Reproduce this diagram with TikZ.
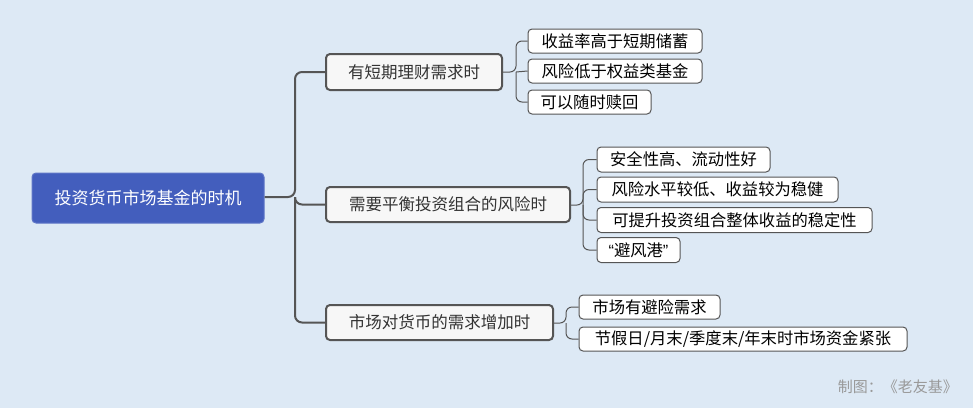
\documentclass[tikz,border=0pt]{standalone}
\usepackage{fontspec}
\setmainfont{Noto Sans CJK SC}
\newfontfamily\latinfont{Liberation Sans}
\definecolor{bgc}{HTML}{DDE9F5}
\definecolor{rootc}{HTML}{435EBD}
\definecolor{linec}{HTML}{555555}
\definecolor{txtc}{HTML}{333333}
\definecolor{boxc}{HTML}{F7F7F7}
\begin{document}
\begin{tikzpicture}[x=1pt,y=-1pt,
  rootbox/.style={draw=rootc!85!white,line width=1pt,fill=rootc,rounded corners=4pt,text=white,font=\fontsize{17}{20}\selectfont,inner sep=0pt},
  topicbox/.style={draw=linec,line width=2pt,fill=boxc,rounded corners=4pt,text=txtc,font=\fontsize{16.5}{19}\selectfont,inner sep=0pt},
  leafbox/.style={draw=linec,line width=1pt,fill=white,rounded corners=4pt,text=black,font=\fontsize{16.3}{19}\selectfont,inner sep=0pt},
  mainlink/.style={draw=linec,line width=2pt,rounded corners=7pt},
  leaflink/.style={draw=linec,line width=1pt,rounded corners=6pt},
  note/.style={text=gray!80,font=\fontsize{15}{18}\selectfont,inner sep=0pt}]
\fill[bgc] (0,0) rectangle (973,408);
\useasboundingbox (0,0) rectangle (973,408);

\node[rootbox,minimum width=232pt,minimum height=50pt] (root) at (148,198) {投资货币市场基金的时机};

\node[topicbox,minimum width=176pt,minimum height=36pt] (ta) at (414,72) {有短期理财需求时};
\node[topicbox,minimum width=244pt,minimum height=35pt] (tb) at (448,204.5) {需要平衡投资组合的风险时};
\node[topicbox,minimum width=227pt,minimum height=35pt] (tc) at (439.5,322.5) {市场对货币的需求增加时};

\node[leafbox,minimum width=174pt,minimum height=24pt] (a1) at (615,41) {收益率高于短期储蓄};
\node[leafbox,minimum width=174pt,minimum height=24pt] (a2) at (615,71) {风险低于权益类基金};
\node[leafbox,minimum width=123pt,minimum height=24pt] (a3) at (589.5,102) {可以随时赎回};

\node[leafbox,minimum width=173pt,minimum height=25pt] (b1) at (683.5,159.5) {安全性高、流动性好};
\node[leafbox,minimum width=241pt,minimum height=25pt] (b2) at (717.5,189.5) {风险水平较低、收益较为稳健};
\node[leafbox,minimum width=275pt,minimum height=25pt] (b3) at (734.5,220) {可提升投资组合整体收益的稳定性};
\node[leafbox,minimum width=83pt,minimum height=25pt] (b4) at (638.5,250) {{\latinfont “}避风港{\latinfont ”}};

\node[leafbox,minimum width=141pt,minimum height=24pt] (c1) at (649.5,307) {市场有避险需求};
\node[leafbox,minimum width=328pt,minimum height=24pt] (c2) at (743,339) {节假日/月末/季度末/年末时市场资金紧张};

\node[note,anchor=east] (src) at (958,386.5) {制图：《老友基》};

\coordinate (j0) at (295,197);
\draw[mainlink] (root.east |- j0) -- (j0) |- (ta.west);
\draw[mainlink] (j0) |- (tb.west);
\draw[mainlink] (j0) |- (tc.west);

\coordinate (ja) at (516,72);
\draw[leaflink] (ta.east) -- (ja) |- (a1.west);
\draw[leaflink] (ja) -- (a2.west);
\draw[leaflink] (ja) |- (a3.west);

\coordinate (jb) at (583,205);
\draw[leaflink] (tb.east |- jb) -- (jb) |- (b1.west);
\draw[leaflink] (jb) |- (b2.west);
\draw[leaflink] (jb) |- (b3.west);
\draw[leaflink] (jb) |- (b4.west);

\coordinate (jc) at (566,323);
\draw[leaflink] (tc.east |- jc) -- (jc) |- (c1.west);
\draw[leaflink] (jc) |- (c2.west);
\end{tikzpicture}
\end{document}
